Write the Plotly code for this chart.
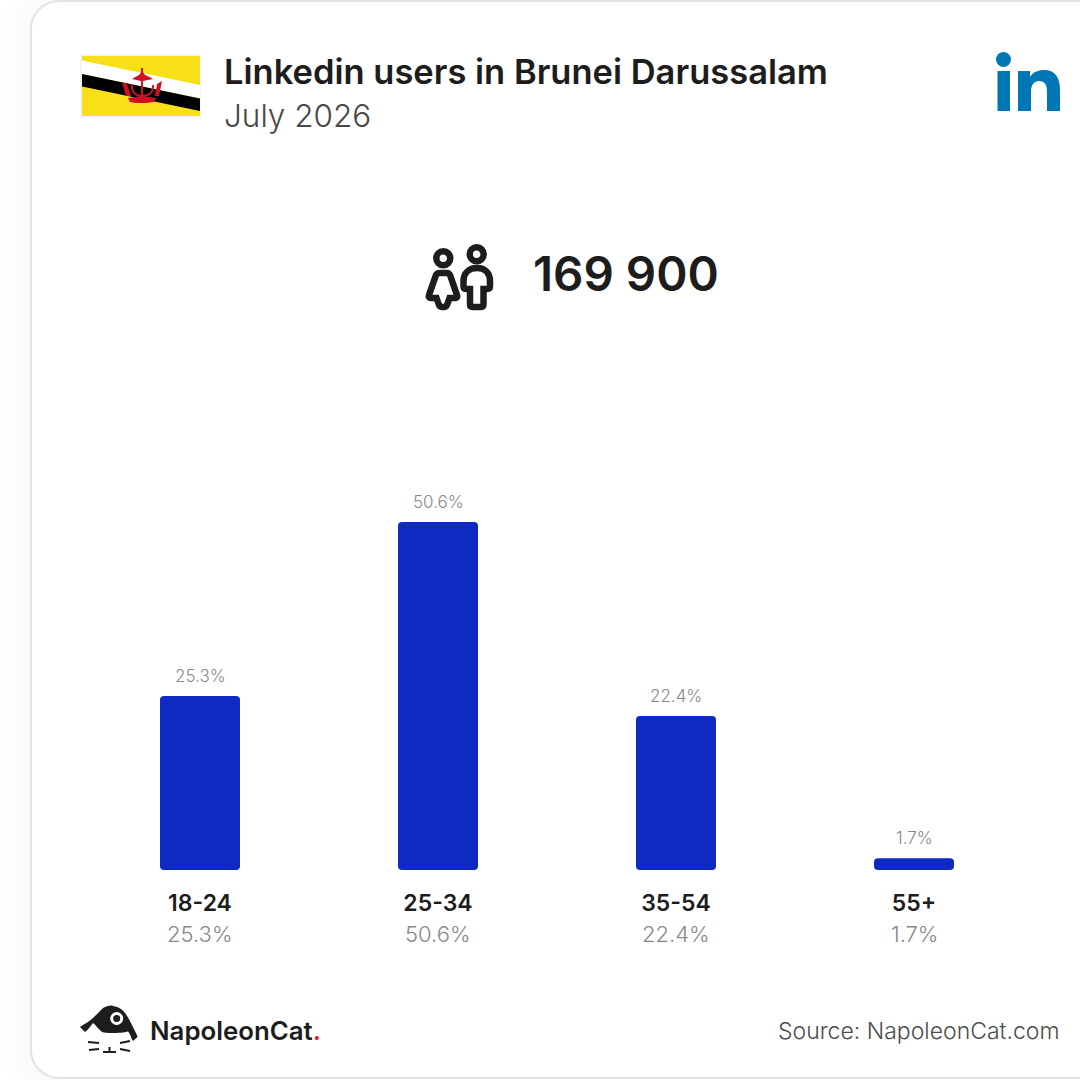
'''
Linkedin users in Brunei Darussalam, age groups (NapoleonCat card)
'''

import re

import plotly.graph_objects as go

age_groups = ['18-24', '25-34', '35-54', '55+']
age_shares = [25.3, 50.6, 22.4, 1.7]

title_text = 'Linkedin users in Brunei Darussalam'
date_text = 'July 2026'
total_text = '169 900'
source_text = 'Source: NapoleonCat.com'

SIZE = 1080
FONT = 'Inter'
DARK = '#1d1d1d'
GREY = '#888888'
BAR = '#0e2ac2'
RED = '#cf1126'
BAR_STEP = 238
BAR_WIDTH = 80
BAR_LEFT = 200
BASELINE = 870


def fx(x):
    return x / SIZE


def fy(y):
    return 1 - y / SIZE


def to_paper(path):
    '''Turn a path written in page pixels into paper coordinates'''
    nums = iter(re.findall(r'[A-Z]|-?[\d.]+', path))
    out = []
    for tok in nums:
        if tok.isalpha():
            out.append(tok)
        else:
            out.append('{:.5f},{:.5f}'.format(fx(float(tok)), fy(float(next(nums)))))
    return ' '.join(out)


def solid(path, color, layer='below'):
    return dict(type='path', xref='paper', yref='paper', path=to_paper(path),
                fillcolor=color, line_width=0, layer=layer)


def outline(path, color, width):
    return dict(type='path', xref='paper', yref='paper', path=to_paper(path),
                line=dict(color=color, width=width), layer='below')


def circle(cx, cy, r, fill, line=None, width=0):
    return dict(type='circle', xref='paper', yref='paper',
                x0=fx(cx - r), x1=fx(cx + r), y0=fy(cy - r), y1=fy(cy + r),
                fillcolor=fill, line=dict(color=line, width=width), layer='below')


def card(x0, y0, y1, r, fill, line=None, width=0):
    '''Rounded card, open past the right edge of the page'''
    x1 = SIZE + 60
    k = r * 0.45
    d = (f'M{x0} {y0 + r} C{x0} {y0 + k},{x0 + k} {y0},{x0 + r} {y0} L{x1} {y0} L{x1} {y1} '
         f'L{x0 + r} {y1} C{x0 + k} {y1},{x0} {y1 - k},{x0} {y1 - r} Z')
    return dict(type='path', xref='paper', yref='paper', path=to_paper(d),
                fillcolor=fill, line=dict(color=line, width=width), layer='below')


def text(x, y, s, size, color=DARK, weight=400, anchor='left'):
    return dict(xref='paper', yref='paper', x=fx(x), y=fy(y), text=s, showarrow=False,
                xanchor=anchor, yanchor='middle',
                font=dict(family=FONT, size=size, color=color, weight=weight))


shapes = []

# soft shadow and the card itself
for grow in [28, 22, 16, 10, 5]:
    shapes.append(card(31 - grow, 1 - grow, 1078 + grow, 28 + grow, 'rgba(0,0,0,0.005)'))
shapes.append(card(31, 1, 1078, 28, 'white', '#e3e3e3', 2))

# flag
shapes.append(solid('M80 54 L201 54 L201 118 L80 118 Z', '#f3f3f3'))
shapes.append(solid('M82 56 L200 56 L200 116 L82 116 Z', '#f7e017'))
shapes.append(solid('M82 60.5 L200 85 L200 98.5 L82 74 Z', '#ffffff'))
shapes.append(solid('M82 74 L200 98.5 L200 111 L82 86.5 Z', '#000000'))
shapes.append(solid('M132 79 C136 76,140 76,141 72 L141 68 L143 68 L143 72 C144 76,149 76,153 79 L143 81 L143 97 L141 97 L141 81 Z', RED))
shapes.append(outline('M132 85 C131 92,136 96,142 96 C149 96,154 92,153 85', RED, 2))
shapes.append(solid('M122 82 L127 84 L131 96 L126 96 Z', RED))
shapes.append(solid('M162 81 L157 84 L155 96 L159 96 Z', RED))
shapes.append(solid('M128 98 L142 96 L156 98 L154 102 L146 103 L136 103 L130 102 Z', RED))

# linkedin mark
shapes.append(circle(1003.5, 59.5, 7.5, '#0077b5'))
shapes.append(solid('M997.5 71 L1010 71 L1010 111 L997.5 111 Z', '#0077b5'))
shapes.append(solid('M1018 71 L1030 71 L1030 77 C1033 72,1038 70,1044 70 C1055 70,1060 77,1060 90 '
                    'L1060 111 L1047 111 L1047 92 C1047 85,1045 81,1039 81 C1034 81,1031 85,1031 92 '
                    'L1031 111 L1018 111 Z', '#0077b5'))

# people icon, corners eased by hand since shapes have no round joins
shapes.append(circle(443.3, 258.3, 7, 'white', DARK, 6.5))
shapes.append(circle(476.7, 254.3, 7, 'white', DARK, 6.5))
shapes.append(outline('M440 273 L447 273 Q449 273,450 275 L457 295 Q458 298,455 298 L449.5 298 L447 305 Q446 307,444 307 '
                      'L442 307 Q440 307,439 305 L436.5 298 L431 298 Q428 298,429 295 L436 275 Q437 273,440 273 Z', DARK, 6.5))
shapes.append(outline('M470 289 L466 289 Q463.5 289,463.5 286 L463.5 281 C463.5 273,469 268,477 268 C485 268,490 273,490 281 '
                      'L490 286 Q490 289,487 289 L483.5 289 L483.5 304 Q483.5 307,481 307 L472.5 307 Q470 307,470 304 Z', DARK, 6.5))

# napoleoncat logo
shapes.append(solid('M80 1027 C86 1023,90 1021,93 1018 C97 1014,100 1011,103 1008 C107 1006,110 1005,113 1006 '
                    'C119 1007,123 1010,125 1013 C128 1017,130 1021,132 1025 C134 1030,137 1034,137.5 1037 L133 1041 '
                    'C131 1038,130 1033,128 1031.5 C122 1033,108 1034,102 1032 C98 1029,96 1025,93 1023 '
                    'C90 1027,87 1031,85 1032 Z', DARK))
shapes.append(circle(116.7, 1018.5, 5, DARK, 'white', 3))
for whisker in ['M88 1042 L99 1043', 'M89 1050 L99 1049', 'M120 1043 L130 1041', 'M120 1049 L130 1051',
                'M103 1052 L116 1052', 'M109.5 1047 L109.5 1052']:
    shapes.append(outline(whisker, DARK, 2))

# plotly only rounds the top of a bar, so ease the lower corners as well
for i in range(len(age_groups)):
    left = BAR_LEFT + BAR_STEP * i - BAR_WIDTH / 2
    right = left + BAR_WIDTH
    shapes.append(solid(f'M{left} {BASELINE - 4} Q{left} {BASELINE},{left + 4} {BASELINE} L{left} {BASELINE} Z', 'white', 'above'))
    shapes.append(solid(f'M{right} {BASELINE - 4} Q{right} {BASELINE},{right - 4} {BASELINE} L{right} {BASELINE} Z', 'white', 'above'))

annotations = [
    text(222, 71, title_text, 34.5, DARK, 600),
    text(222, 115, date_text, 31.5, '#484848', 300),
    text(531, 273, total_text, 47.5, DARK, 600),
    text(1061, 1031, source_text, 23, '#4c4c4c', 300, 'right'),
    text(148, 1030, 'NapoleonCat<span style="color:#e02030">.</span>', 25.8, DARK, 600),
]

fig = go.Figure()
fig.add_bar(x=age_groups, y=age_shares,
            width=BAR_WIDTH / BAR_STEP,
            marker=dict(color=BAR, cornerradius=4, line_width=0),
            cliponaxis=False)

# value over each bar and share under each age label, on the category axis
for group, share in zip(age_groups, age_shares):
    annotations.append(dict(xref='x', yref='y', x=group, y=share, text='{}%'.format(share),
                            showarrow=False, xanchor='center', yanchor='bottom', yshift=8,
                            font=dict(family=FONT, size=17, color=GREY, weight=300)))
    annotations.append(dict(xref='x', yref='paper', x=group, y=fy(934), text='{}%'.format(share),
                            showarrow=False, xanchor='center', yanchor='middle',
                            font=dict(family=FONT, size=22, color=GREY, weight=300)))

fig.update_layout(
    width=SIZE, height=SIZE,
    margin=dict(l=0, r=0, t=0, b=0),
    paper_bgcolor='white', plot_bgcolor='rgba(0,0,0,0)',
    showlegend=False,
    shapes=shapes,
    annotations=annotations,
    xaxis=dict(type='category', range=[-BAR_LEFT / BAR_STEP, (SIZE - BAR_LEFT) / BAR_STEP],
               showgrid=False, zeroline=False, showline=False, ticks='', ticklen=0, ticklabelstandoff=17,
               tickfont=dict(family=FONT, size=23, color=DARK, weight=600)),
    yaxis=dict(domain=[fy(BASELINE), 1], range=[0, BASELINE / (348 / 50.6)], visible=False),
)

fig.write_html('out.html', config={'displayModeBar': False},
               post_script="document.body.style.margin='0';document.body.style.overflow='hidden';")
